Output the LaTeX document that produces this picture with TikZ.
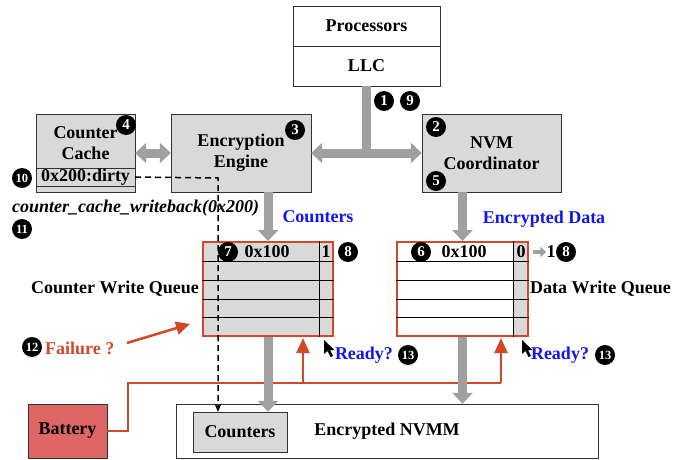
\documentclass[tikz,border=0pt]{standalone}
\usepackage{fontspec}
\setmainfont{Liberation Serif}
\usetikzlibrary{arrows.meta,positioning}

\definecolor{boxgray}{RGB}{217,217,217}
\definecolor{pipegray}{RGB}{160,160,160}
\definecolor{failred}{RGB}{210,72,40}
\definecolor{readyblue}{RGB}{20,20,240}
\definecolor{battred}{RGB}{224,102,102}

\tikzset{
  unit/.style={draw=black!80, fill=boxgray, align=center, inner sep=0pt,
    font=\bfseries\fontsize{18}{21}\selectfont},
  lbl/.style={inner sep=0pt, align=center, font=\bfseries\fontsize{18}{21}\selectfont},
  bluelbl/.style={lbl, text=readyblue},
  num/.style={circle, fill=black, text=white, inner sep=0pt, minimum size=20pt,
    font=\bfseries\fontsize{15}{15}\selectfont},
  numtwo/.style={num, font=\bfseries\fontsize{12.5}{12.5}\selectfont},
  queue/.style={draw=failred, line width=2pt, minimum width=130pt, minimum height=94pt, inner sep=0pt},
  pipe/.style={pipegray, line width=9pt, -{Triangle[width=20pt,length=11pt]}},
  dpipe/.style={pipegray, line width=9pt, {Triangle[width=20pt,length=11pt]}-{Triangle[width=20pt,length=11pt]}},
  power/.style={failred, line width=2.5pt},
  wbline/.style={line width=1.5pt, dash pattern=on 6pt off 4pt, -{Stealth[length=8pt,width=7pt]}},
}

\newcommand{\pointer}[1]{\fill[shift={#1}] (0,0) -- (0,14) -- (3.5,11) -- (6.5,17) -- (9,16) -- (6,10) -- (10.5,10) -- cycle;}

\begin{document}
\begin{tikzpicture}[x=1pt,y=-1pt]
\useasboundingbox (0,0) rectangle (691,460);

% top
\node[unit, fill=white, minimum width=147pt, minimum height=40pt] (proc) at (366.5,26) {Processors};
\node[unit, fill=white, minimum width=147pt, minimum height=40pt] (llc) at (366.5,66) {LLC};

% middle units
\node[unit, minimum width=99pt, minimum height=78pt] (cc) at (85.5,153) {};
\node[lbl] (cctext) at (85.5,143) {Counter\\Cache};
\draw[black!80] (cc.west |- 0,168) -- (cc.east |- 0,168);
\draw[black!80] (cc.west |- 0,186) -- (cc.east |- 0,186);
\node[lbl] (dirty) at (85.5,177) {0x200:dirty};
\node[unit, minimum width=140pt, minimum height=78pt] (ee) at (241,153) {Encryption\\Engine};
\node[unit, minimum width=139pt, minimum height=78pt] (nvm) at (491.5,153) {NVM\\Coordinator};

\node[lbl, anchor=west, font=\bfseries\itshape\fontsize{18}{21}\selectfont] (wbcall) at (12,208) {counter\_cache\_writeback(0x200)};
\node[bluelbl] (ctrlbl) at (318,217) {Counters};
\node[bluelbl] (datalbl) at (544,219) {Encrypted Data};

% write queues
\node[queue, fill=boxgray] (cwq) at (268,289) {};
\foreach \y in {261,280,299,317} \draw (cwq.west |- 0,\y) -- (cwq.east |- 0,\y);
\draw (319,0 |- cwq.north) -- (319,0 |- cwq.south);
\fill[boxgray] (513,242) rectangle (528,336);
\node[queue, minimum width=131pt] (dwq) at (462.5,289) {};
\foreach \y in {261,280,299,317} \draw (dwq.west |- 0,\y) -- (dwq.east |- 0,\y);
\draw (513,0 |- dwq.north) -- (513,0 |- dwq.south);

\node[lbl] (caddr) at (267,252) {0x100};
\node[lbl] (cbit) at (326,252) {1};
\node[lbl] (daddr) at (464,252) {0x100};
\node[lbl] (dbit) at (521,252) {0};
\node[lbl] (dnew) at (551,252) {1};
\draw[pipegray, line width=4pt, -{Triangle[width=10pt,length=6pt]}] (533,252) -- (dnew.west);

\node[lbl, anchor=east] (cwqlbl) at (199,289) {Counter Write Queue};
\node[lbl, anchor=west] (dwqlbl) at (530,289) {Data Write Queue};

% memory and battery
\node[unit, fill=white, minimum width=422pt, minimum height=54pt] (nvmm) at (387,431) {Encrypted NVMM};
\node[unit, minimum width=94pt, minimum height=40pt] (ctr) at (240,432) {Counters};
\node[unit, fill=battred, minimum width=79pt, minimum height=54pt] (batt) at (67.5,431) {Battery};

% step numbers
\node[num] (n1) at (384,101) {1};
\node[num] (n9) at (410,101) {9};
\node[num] (n2) at (436,127) {2};
\node[num] (n3) at (295,130) {3};
\node[num] (n4) at (126,125) {4};
\node[num] (n5) at (436,181) {5};
\node[num] (n6) at (421,252) {6};
\node[num] (n7) at (228,252) {7};
\node[num] (n8a) at (348,252) {8};
\node[num] (n8b) at (566,252) {8};
\node[numtwo] (n10) at (22,178) {10};
\node[numtwo] (n11) at (22,229) {11};
\node[numtwo] (n12) at (32,347) {12};
\node[numtwo] (n13a) at (408,355) {13};
\node[numtwo] (n13b) at (605,355) {13};

% failure and ready
\node[lbl, text=failred, anchor=west] (fail) at (45,348) {Failure ?};
\coordinate (failtip) at (190,324);
\draw[power, -{Triangle[width=13pt,length=14pt]}] (127,343) -- (failtip);
\pointer{(324,340)}
\pointer{(522,340)}
\node[bluelbl] (ready1) at (364,355) {Ready?};
\node[bluelbl] (ready2) at (560,355) {Ready?};

% battery power lines
\coordinate (pa) at (128,383);
\coordinate (pb) at (303,383);
\coordinate (pc) at (501,383);
\draw[power] (batt.east) -| (pa) -- (pc);
\draw[power, -{Triangle[width=13pt,length=15pt]}] (pb) -- (pb |- 0,338);
\draw[power, -{Triangle[width=13pt,length=15pt]}] (pc) -- (pc |- 0,338);

% data paths
\draw[pipegray, line width=9pt] (llc.south) -- (llc.south |- ee.east);
\draw[dpipe] (ee.east) -- (nvm.west);
\draw[dpipe] (cc.east) -- (ee.west);
\draw[pipe] (cwq.north |- ee.south) -- (cwq.north);
\draw[pipe] (dwq.north |- nvm.south) -- (dwq.north);
\draw[pipe] (cwq.south) -- (cwq.south |- ctr.north);
\draw[pipe] (dwq.south) -- (dwq.south |- nvmm.north);

% writeback
\coordinate (wb) at (218,178);
\draw[wbline] (cc.east |- dirty) -- (wb) -- (wb |- ctr.north);
\end{tikzpicture}
\end{document}
